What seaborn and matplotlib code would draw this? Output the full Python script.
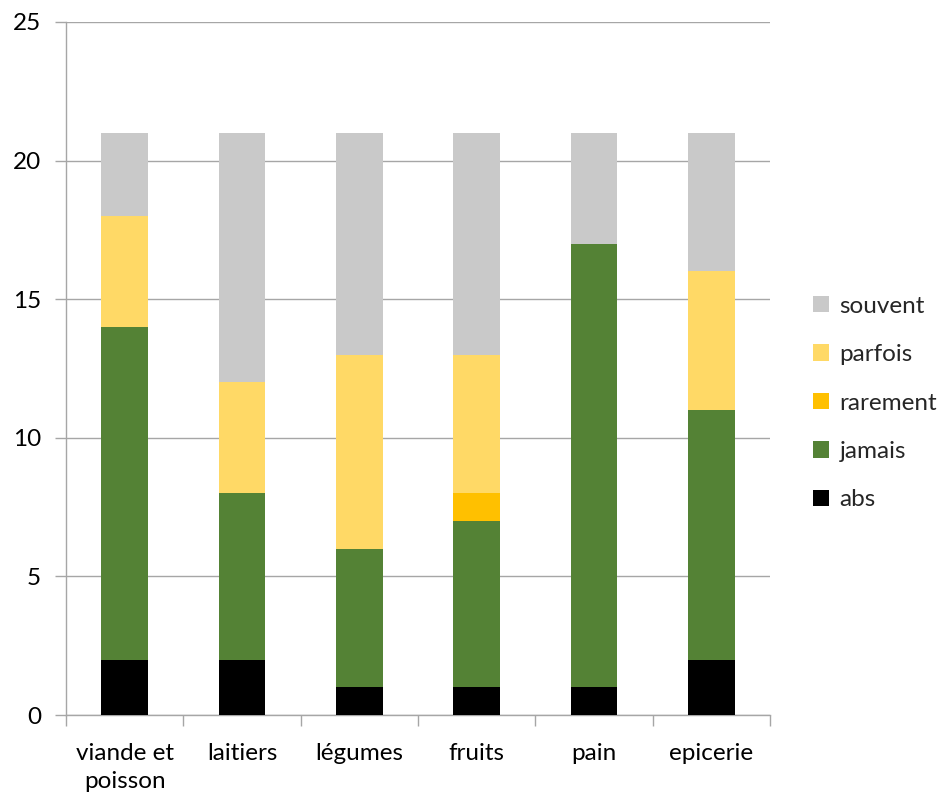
import matplotlib
matplotlib.use("Agg")
import matplotlib.pyplot as plt
import seaborn as sns
import pandas as pd
import numpy as np
from matplotlib.patches import Patch

categories = ["viande et\npoisson", "laitiers", "légumes", "fruits", "pain", "epicerie"]
abs_vals = [2, 2, 1, 1, 1, 2]
jamais = [12, 6, 5, 6, 16, 9]
rarement = [0, 0, 0, 1, 0, 0]
parfois = [4, 4, 7, 5, 0, 5]
souvent = [3, 9, 8, 8, 4, 5]

series = [
    ("abs", abs_vals, "#000000"),
    ("jamais", jamais, "#548235"),
    ("rarement", rarement, "#FFC000"),
    ("parfois", parfois, "#FFD966"),
    ("souvent", souvent, "#C9C9C9"),
]

sns.set_theme(style="white")
plt.rcParams["font.family"] = ["Lato", "DejaVu Sans"]
FS = 17.5

fig = plt.figure(figsize=(9.39, 7.96), dpi=100)
ax = fig.add_axes([66 / 939, 81 / 796, 704 / 939, 693 / 796])

bottom = np.zeros(len(categories))
for name, vals, color in series:
    df = pd.DataFrame({"cat": categories, "val": vals})
    sns.barplot(data=df, x="cat", y="val", color=color, width=0.4,
                bottom=bottom, ax=ax, linewidth=0, saturation=1, zorder=3)
    bottom = bottom + np.array(vals)

ax.set_xlim(-0.5, len(categories) - 0.5)
ax.set_ylim(0, 25)
ax.set_yticks([0, 5, 10, 15, 20, 25])
ax.yaxis.grid(True, color="#A6A6A6", linewidth=1, zorder=0)
ax.set_axisbelow(True)
ax.set_xlabel("")
ax.set_ylabel("")

for s in ["top", "right"]:
    ax.spines[s].set_visible(False)
for s in ["left", "bottom"]:
    ax.spines[s].set_color("#A6A6A6")
    ax.spines[s].set_linewidth(1)

# category labels at centres, tick marks on boundaries
ax.set_xticks(range(len(categories)))
ax.set_xticklabels(categories, fontsize=FS, color="#000000", linespacing=1.45)
ax.tick_params(axis="x", length=0, pad=20)
ax.set_xticks(np.arange(-0.5, len(categories)), minor=True)
ax.tick_params(axis="x", which="minor", length=8, color="#A6A6A6", width=1, bottom=True)
ax.tick_params(axis="y", labelsize=FS, length=8, color="#A6A6A6", width=1,
               left=True, pad=10, labelcolor="#000000")

handles = [Patch(facecolor=c, edgecolor="none", label=n) for n, _, c in reversed(series)]
fig.legend(handles=handles, loc="center left", bbox_to_anchor=(803 / 939, 1 - 403 / 796),
           frameon=False, fontsize=FS, handlelength=0.65, handleheight=0.65,
           handletextpad=0.45, labelspacing=1.13, borderaxespad=0)

fig.savefig("out.png", dpi=100)
